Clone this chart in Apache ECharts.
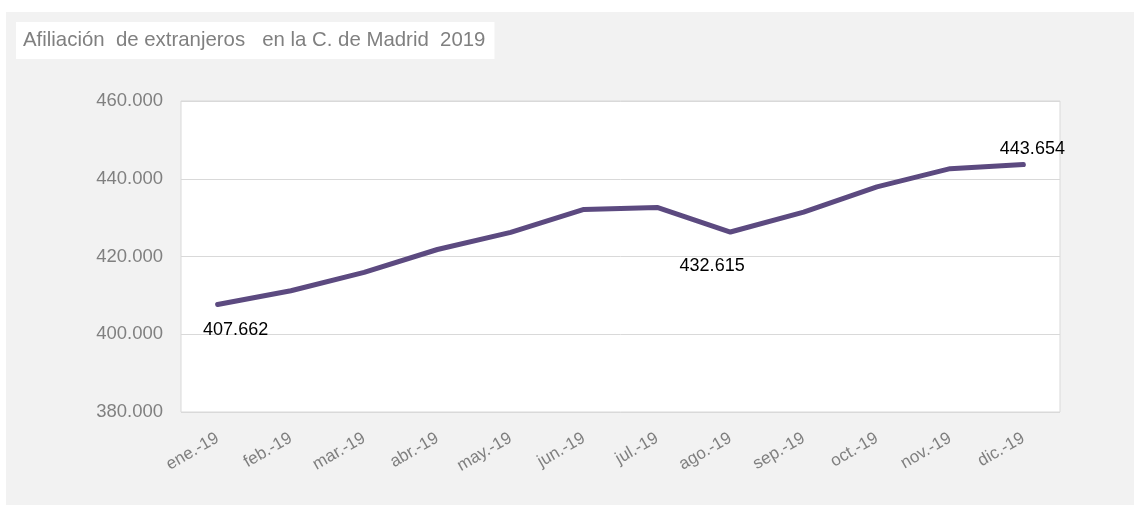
<!DOCTYPE html>
<html>
<head>
<meta charset="utf-8">
<script src="https://cdn.jsdelivr.net/npm/echarts@6/dist/echarts.min.js"></script>
<style>
  html, body { margin: 0; padding: 0; background: #fff; }
  #panel { position: absolute; left: 6px; top: 12px; width: 1128px; height: 493px; background: #f2f2f2; }
  #main { position: absolute; left: 0; top: 0; width: 1134px; height: 506px; }
</style>
</head>
<body>
<div id="panel"></div>
<div id="main"></div>
<script>
// meses y afiliados (lectura del gráfico)
var meses = ['ene.-19', 'feb.-19', 'mar.-19', 'abr.-19', 'may.-19', 'jun.-19',
             'jul.-19', 'ago.-19', 'sep.-19', 'oct.-19', 'nov.-19', 'dic.-19'];
var afiliados = [407662, 411200, 415900, 421800, 426200, 432100,
                 432615, 426300, 431400, 437900, 442600, 443654];
var yTicks = [380000, 400000, 420000, 440000, 460000];

function fmt(v) {
    return String(v).replace(/\B(?=(\d{3})+(?!\d))/g, '.');
}

// solo tres puntos llevan etiqueta
var etiquetas = {
    0: { position: 'bottom', offset: [18, 12] },
    6: { position: 'bottom', offset: [55, 45] },
    11: { position: 'top', offset: [9, -2] }
};
var puntos = afiliados.map(function (v, i) {
    var d = { value: v };
    if (etiquetas[i]) {
        d.label = Object.assign({ show: true }, etiquetas[i]);
    }
    return d;
});

var myChart = echarts.init(document.getElementById('main'));
var option = {
    backgroundColor: 'transparent',
    animation: false,
    title: {
        text: 'Afiliación  de extranjeros   en la C. de Madrid  2019',
        left: 16,
        top: 22,
        backgroundColor: '#fff',
        padding: [8, 9, 9, 7],
        textStyle: {
            color: '#808080',
            fontSize: 20.4,
            fontWeight: 'normal',
            fontFamily: 'Liberation Sans'
        }
    },
    grid: {
        left: 181,
        right: 74,
        top: 101,
        bottom: 94,
        show: true,
        backgroundColor: '#fff',
        borderColor: '#d9d9d9',
        borderWidth: 1
    },
    xAxis: {
        type: 'category',
        data: meses,
        boundaryGap: true,
        axisLine: { show: false },
        axisTick: { show: false },
        axisLabel: {
            rotate: 30,
            margin: 25,
            color: '#7f7f7f',
            fontSize: 17,
            fontFamily: 'Liberation Sans',
            interval: 0
        }
    },
    yAxis: {
        type: 'value',
        min: yTicks[0],
        max: yTicks[yTicks.length - 1],
        interval: 20000,
        axisLine: { show: false },
        axisTick: { show: false },
        splitLine: { lineStyle: { color: '#d9d9d9', width: 1 } },
        axisLabel: {
            margin: 18,
            color: '#808080',
            fontSize: 18.5,
            fontFamily: 'Liberation Sans',
            formatter: function (v) { return fmt(v); }
        }
    },
    series: [{
        type: 'line',
        data: puntos,
        symbol: 'circle',
        symbolSize: 0,
        showSymbol: true,
        itemStyle: { color: '#5c4a80' },
        lineStyle: { color: '#5c4a80', width: 5, cap: 'round', join: 'round' },
        label: {
            show: false,
            color: '#000',
            fontSize: 18,
            fontFamily: 'Liberation Sans',
            formatter: function (p) { return fmt(p.value); }
        }
    }]
};
myChart.setOption(option);
</script>
</body>
</html>
